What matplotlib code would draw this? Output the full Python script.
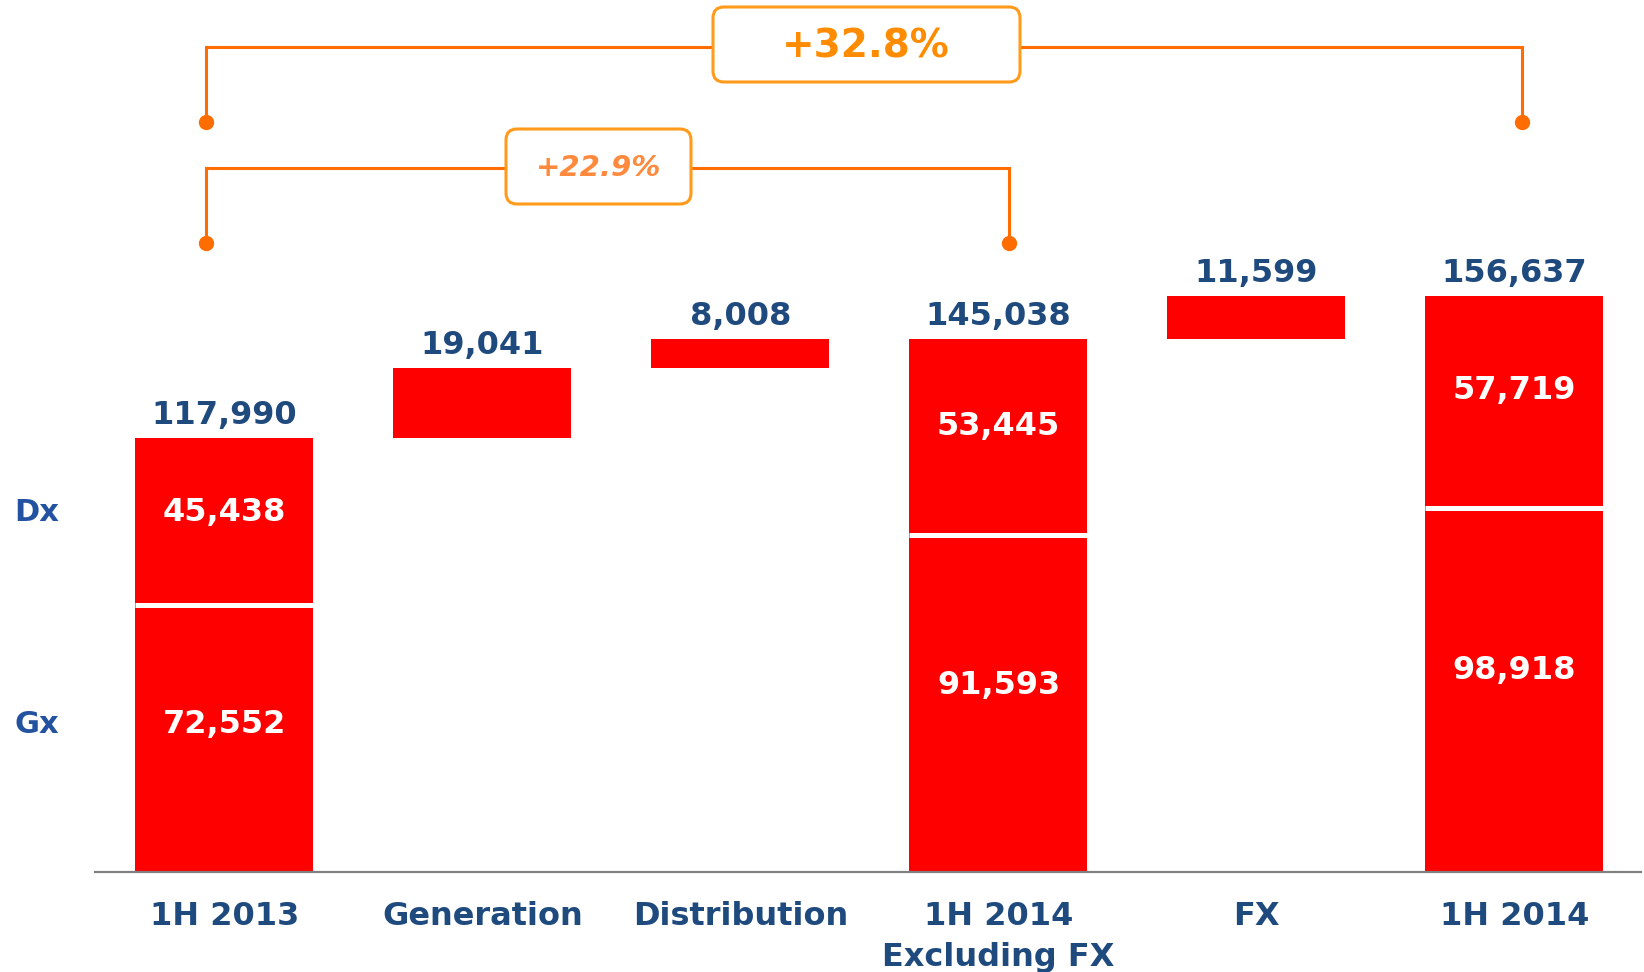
import matplotlib
matplotlib.use("Agg")
import matplotlib.pyplot as plt
from matplotlib.patches import FancyBboxPatch
import matplotlib.transforms as mtransforms

# ---- data ----
categories = ["1H 2013", "Generation", "Distribution", "1H 2014\nExcluding FX", "FX", "1H 2014"]
gx_values = [72552, None, None, 91593, None, 98918]
dx_values = [45438, None, None, 53445, None, 57719]
delta_values = [None, 19041, 8008, None, 11599, None]
totals = [117990, None, None, 145038, None, 156637]
delta_bottoms = [None, 117990, 137031, None, 145038, None]
side_labels = ["Dx", "Gx"]

RED = "#FF0000"
NAVY = "#1F4A7E"
ORANGE_LINE = "#FF6C00"
ORANGE_BOX = "#FF9A1A"
ORANGE_TXT1 = "#FF8C00"
ORANGE_TXT2 = "#FF8A3D"

plt.rcParams['font.family'] = ['DejaVu Sans']
fig = plt.figure(figsize=(16.44, 9.72), dpi=100)
ax = fig.add_axes([0, 0, 1, 1])
ax.set_xlim(-0.870, 5.502)
ax.set_ylim(-27210, 237280)

W = 0.69
FS = 23

def fmt(v):
    return f"{v:,}"

x = list(range(len(categories)))
for i in x:
    if totals[i] is not None:
        ax.bar(i, gx_values[i], width=W, color=RED, zorder=2)
        ax.bar(i, dx_values[i], bottom=gx_values[i], width=W, color=RED, zorder=2)
        # white separator
        ax.plot([i - W / 2, i + W / 2], [gx_values[i], gx_values[i]], color="white", lw=3.6, zorder=3,
                solid_capstyle="butt")
        ax.annotate(fmt(totals[i]), (i, totals[i]), xytext=(0, 5), textcoords="offset points",
                    ha="center", va="bottom", fontsize=FS, fontweight="bold", color=NAVY)
        ax.text(i, gx_values[i] * 0.555, fmt(gx_values[i]), ha="center", va="center",
                fontsize=FS, fontweight="bold", color="white", zorder=4)
        ax.text(i, gx_values[i] + dx_values[i] * 0.555, fmt(dx_values[i]), ha="center", va="center",
                fontsize=FS, fontweight="bold", color="white", zorder=4)
    else:
        ax.bar(i, delta_values[i], bottom=delta_bottoms[i], width=W, color=RED, zorder=2)
        ax.annotate(fmt(delta_values[i]), (i, delta_bottoms[i] + delta_values[i]), xytext=(0, 5),
                    textcoords="offset points", ha="center", va="bottom", fontsize=FS,
                    fontweight="bold", color=NAVY)

# Dx / Gx side labels, aligned with first bar segment labels
ax.text(-0.726, gx_values[0] + dx_values[0] * 0.555, side_labels[0], ha="center", va="center",
        fontsize=FS - 1, fontweight="bold", color="#2352A0")
ax.text(-0.726, gx_values[0] * 0.555, side_labels[1], ha="center", va="center",
        fontsize=FS - 1, fontweight="bold", color="#2352A0")

# axes styling
for s in ["top", "right", "left"]:
    ax.spines[s].set_visible(False)
ax.spines["bottom"].set_position(("data", 0))
ax.spines["bottom"].set_bounds(-0.50, 5.49)
ax.spines["bottom"].set_color("#808080")
ax.spines["bottom"].set_linewidth(1.6)
ax.set_yticks([])
ax.set_xticks(x)
ax.set_xticklabels(categories, fontsize=FS, fontweight="bold", color=NAVY, linespacing=1.4)
ax.tick_params(axis="x", length=0, pad=21)

# brackets
trans = mtransforms.blended_transform_factory(ax.transData, ax.transAxes)

def bracket(x0, x1, y_line, y_dot):
    ax.plot([x0, x0, x1, x1], [y_dot, y_line, y_line, y_dot], color=ORANGE_LINE, lw=2.2,
            transform=trans, zorder=1, solid_joinstyle="miter")
    ax.plot([x0, x1], [y_dot, y_dot], ls="none", marker="o", ms=10, color=ORANGE_LINE,
            transform=trans, zorder=1)

pct_total = (totals[5] / totals[0] - 1) * 100
pct_exfx = (totals[3] / totals[0] - 1) * 100

bracket(-0.07, 5.03, 1 - 47 / 972, 1 - 121.6 / 972)
bracket(-0.07, 3.04, 1 - 168 / 972, 1 - 243 / 972)

def box(cx_px, cy_px, w_px, h_px):
    FW, FH = 1644, 972
    p = FancyBboxPatch(((cx_px - w_px / 2) / FW, 1 - (cy_px + h_px / 2) / FH), w_px / FW, h_px / FH,
                       boxstyle=f"round,pad=0,rounding_size={11 / FW}", mutation_aspect=FW / FH,
                       transform=fig.transFigure, facecolor="white", edgecolor=ORANGE_BOX,
                       lw=2.2, zorder=5)
    fig.patches.append(p)

box(866.5, 44.5, 307, 75)
box(598.5, 166.5, 185, 75)
fig.text(866 / 1644, 1 - 47 / 972, f"+{pct_total:.1f}%", ha="center", va="center", fontsize=28,
         fontweight="bold", color=ORANGE_TXT1, zorder=6)
fig.text(599 / 1644, 1 - 168 / 972, f"+{pct_exfx:.1f}%", ha="center", va="center", fontsize=21,
         fontweight="bold", fontstyle="italic", color=ORANGE_TXT2, zorder=6)

fig.savefig("out.png", dpi=100)
